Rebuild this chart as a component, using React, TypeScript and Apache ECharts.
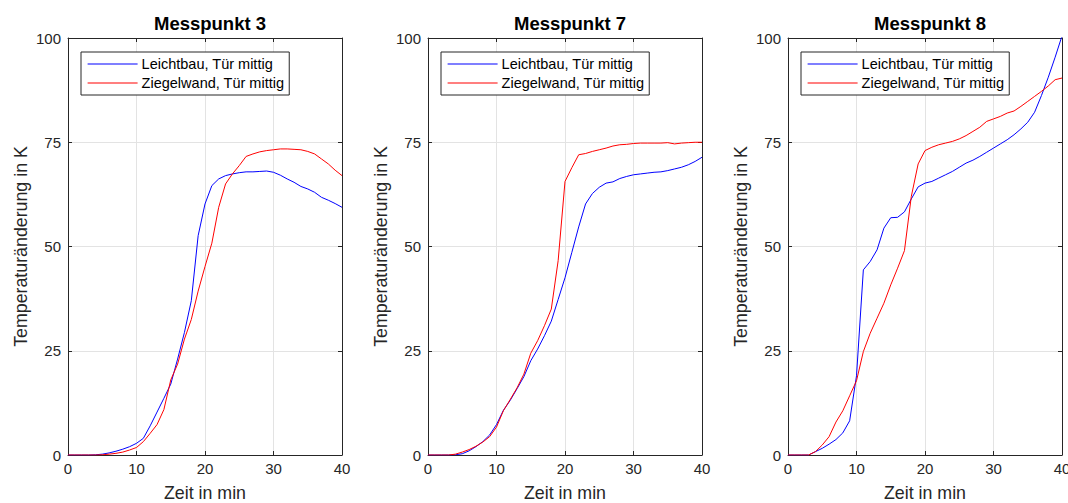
import React, { useEffect, useRef } from "react";
import * as echarts from "echarts";

const minutes = Array.from({ length: 41 }, (_, i) => i);
const titles = ["Messpunkt 3", "Messpunkt 7", "Messpunkt 8"];
const seriesNames = ["Leichtbau, Tür mittig", "Ziegelwand, Tür mittig"];
const xTicks = [0, 10, 20, 30, 40];
const yTicks = [0, 25, 50, 75, 100];

const mp3Leicht = [0, 0, 0, 0, 0.05, 0.2, 0.5, 0.9, 1.4, 2.0, 2.8, 4.0, 7.0, 10.3, 13.6, 17.0, 23.0, 29.4, 37.0, 52.6, 60.2, 64.6, 66.2, 67.0, 67.4, 67.7, 67.9, 67.9, 68.0, 68.1, 67.8, 67.1, 66.2, 65.4, 64.4, 63.8, 63.0, 61.8, 61.1, 60.3, 59.4];
const mp3Ziegel = [0, 0, 0, 0, 0, 0.05, 0.2, 0.4, 0.7, 1.2, 1.8, 3.2, 5.2, 7.3, 10.9, 18.0, 21.8, 27.8, 32.5, 39.3, 45.2, 50.8, 59.4, 65.0, 67.4, 69.4, 71.6, 72.2, 72.7, 73.0, 73.2, 73.4, 73.4, 73.3, 73.2, 72.8, 72.2, 71.0, 69.8, 68.3, 67.0];
const mp7Leicht = [0, 0, 0, 0, 0.05, 0.3, 1.0, 2.0, 3.2, 4.8, 7.3, 10.7, 13.1, 15.9, 18.8, 22.6, 25.4, 28.6, 32.1, 37.3, 42.5, 48.6, 54.7, 60.2, 62.7, 64.2, 65.2, 65.5, 66.3, 66.8, 67.2, 67.4, 67.6, 67.8, 67.9, 68.2, 68.6, 69.0, 69.6, 70.4, 71.4];
const mp7Ziegel = [0, 0, 0, 0, 0.2, 0.7, 1.3, 2.1, 3.1, 4.4, 6.7, 10.6, 13.3, 16.1, 19.4, 24.4, 27.4, 31.0, 35.0, 46.6, 65.6, 68.9, 72.0, 72.3, 72.8, 73.2, 73.6, 74.1, 74.4, 74.5, 74.7, 74.8, 74.8, 74.8, 74.8, 74.9, 74.6, 74.8, 74.9, 75.0, 75.0];
const mp8Leicht = [0, 0, 0, 0, 0.8, 1.6, 2.6, 3.7, 5.3, 8.2, 19.0, 44.4, 46.4, 49.2, 54.4, 56.9, 57.0, 58.3, 61.4, 64.3, 65.2, 65.6, 66.4, 67.2, 68.0, 69.0, 70.0, 70.7, 71.6, 72.6, 73.6, 74.6, 75.6, 76.8, 78.2, 79.8, 82.2, 86.2, 90.6, 95.4, 100.5];
const mp8Ziegel = [0, 0, 0, 0, 0.8, 2.4, 4.4, 7.9, 10.6, 14.2, 17.8, 24.8, 29.2, 32.8, 36.4, 40.8, 44.8, 49.0, 62.0, 69.8, 73.0, 73.8, 74.4, 74.8, 75.2, 75.8, 76.6, 77.6, 78.6, 80.0, 80.6, 81.2, 82.0, 82.5, 83.6, 84.8, 86.0, 87.2, 88.5, 90.0, 90.4];

const panels = [
  [mp3Leicht, mp3Ziegel],
  [mp7Leicht, mp7Ziegel],
  [mp8Leicht, mp8Ziegel],
];
const colors = ["#0000ff", "#ff0000"];

const FONT = "'Liberation Sans', Arial, Helvetica, sans-serif";
const AX = "#262626";
const gridLefts = [68, 428, 788];
const gridTop = 38;
const gridW = 274;
const gridH = 417;

export default function App() {
  const ref = useRef<HTMLDivElement>(null);
  useEffect(() => {
    if (!ref.current) return;
    const chart = echarts.init(ref.current, undefined, { renderer: "svg" });
    const grid: any[] = [];
    const xAxis: any[] = [];
    const yAxis: any[] = [];
    const series: any[] = [];
    const title: any[] = [];
    const legend: any[] = [];
    panels.forEach((vals, p) => {
      grid.push({
        left: gridLefts[p], top: gridTop, width: gridW, height: gridH,
        containLabel: false, outerBoundsMode: "none",
      });
      const xi = xAxis.length;
      const yi = yAxis.length;
      xAxis.push({
        type: "value", gridIndex: p, min: xTicks[0], max: xTicks[xTicks.length - 1], interval: 10, position: "bottom",
        name: "Zeit in min", nameLocation: "middle", nameGap: 29,
        nameTextStyle: { fontFamily: FONT, fontSize: 17.8, color: AX },
        axisLine: { show: true, onZero: false, lineStyle: { color: AX, width: 1 } },
        axisTick: { show: true, inside: true, length: 4, lineStyle: { color: AX } },
        axisLabel: { fontFamily: FONT, fontSize: 15, color: AX, margin: 6 },
        splitLine: { show: true, lineStyle: { color: "#e3e3e3", width: 1 } },
      });
      xAxis.push({
        type: "value", gridIndex: p, min: 0, max: 40, interval: 10, position: "top",
        axisLine: { show: true, onZero: false, lineStyle: { color: AX, width: 1 } },
        axisTick: { show: true, inside: true, length: 4, lineStyle: { color: AX } },
        axisLabel: { show: false }, splitLine: { show: false },
      });
      yAxis.push({
        type: "value", gridIndex: p, min: yTicks[0], max: yTicks[yTicks.length - 1], interval: 25, position: "left",
        name: "Temperaturänderung in K", nameLocation: "middle", nameGap: 38,
        nameTextStyle: { fontFamily: FONT, fontSize: 17.8, color: AX },
        axisLine: { show: true, onZero: false, lineStyle: { color: AX, width: 1 } },
        axisTick: { show: true, inside: true, length: 4, lineStyle: { color: AX } },
        axisLabel: { fontFamily: FONT, fontSize: 15, color: AX, margin: 7 },
        splitLine: { show: true, lineStyle: { color: "#e3e3e3", width: 1 } },
      });
      yAxis.push({
        type: "value", gridIndex: p, min: 0, max: 100, interval: 25, position: "right",
        axisLine: { show: true, onZero: false, lineStyle: { color: AX, width: 1 } },
        axisTick: { show: true, inside: true, length: 4, lineStyle: { color: AX } },
        axisLabel: { show: false }, splitLine: { show: false },
      });
      vals.forEach((v, s) => {
        series.push({
          type: "line", name: seriesNames[s], xAxisIndex: xi, yAxisIndex: yi,
          data: minutes.map((m, i) => [m, v[i]]),
          symbol: "none", clip: true, color: colors[s],
          lineStyle: { color: colors[s], width: 1 },
          z: 3,
        });
      });
      title.push({
        text: titles[p], left: gridLefts[p] + gridW / 2, top: 9, textAlign: "center",
        textStyle: { fontFamily: FONT, fontSize: 18.5, fontWeight: "bold", color: "#000" },
      });
      legend.push({
        data: seriesNames, left: gridLefts[p] + 13, top: 52, orient: "vertical",
        backgroundColor: "#ffffff", borderColor: AX, borderWidth: 1, borderRadius: 0,
        padding: [4, 5, 4, 6], itemGap: 3, itemWidth: 50, itemHeight: 16,
        itemStyle: { opacity: 0 },
        lineStyle: { width: 1.2 },
        textStyle: { fontFamily: FONT, fontSize: 14.5, lineHeight: 16, color: "#000", padding: [0, 0, 0, -1] },
        selectedMode: false,
      });
    });
    chart.setOption({
      animation: false,
      backgroundColor: "#ffffff",
      title, legend, grid, xAxis, yAxis, series,
    });
    return () => chart.dispose();
  }, []);
  return (
    <div
      ref={ref}
      style={{ position: "fixed", left: 0, top: 0, width: 1068, height: 503 }}
    />
  );
}
